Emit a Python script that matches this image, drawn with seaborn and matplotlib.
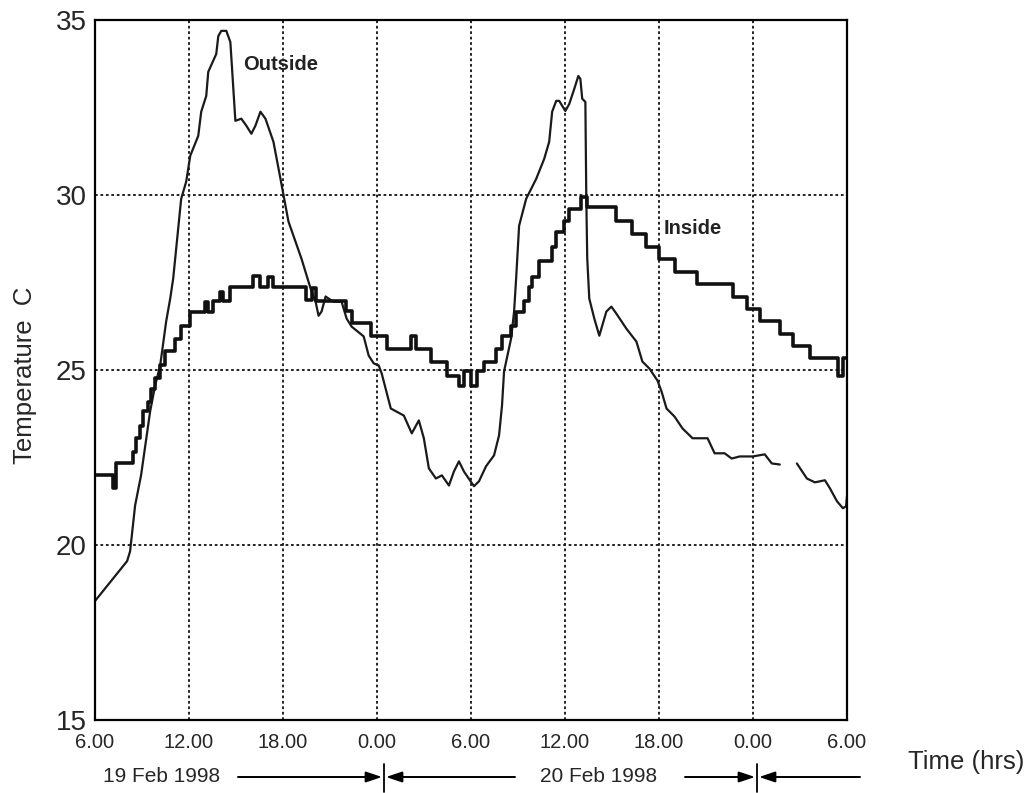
import numpy as np
import pandas as pd
import matplotlib
matplotlib.use("Agg")
import matplotlib.pyplot as plt
import seaborn as sns

# ---------------- data (hours since 06:00, 19 Feb 1998) ----------------
outside_hours = [0, 2.05, 2.24, 2.56, 2.94, 3.52, 3.84, 4.16, 4.54, 4.80, 4.99, 5.50, 5.82,
                 6.08, 6.59, 6.78, 7.10, 7.23, 7.74, 7.87, 8.06, 8.38, 8.64, 8.96, 9.34,
                 9.66, 9.98, 10.24, 10.56, 10.88, 11.39, 11.84, 12.16, 12.35, 13.18, 13.76,
                 14.08, 14.27, 14.46, 14.72, 14.91, 15.23, 15.74, 16.06, 16.38, 17.15,
                 17.47, 17.79, 18.11, 18.30, 18.88, 19.71, 20.22, 20.67, 20.99, 21.31,
                 21.76, 22.14, 22.59, 22.91, 23.23, 23.55, 24.19, 24.51, 24.96, 25.47,
                 25.79, 25.98, 26.11, 26.56, 26.75, 26.88, 27.07, 27.52, 28.16, 28.67,
                 28.99, 29.18, 29.44, 29.63, 30.02, 30.27, 30.59, 30.85, 30.98, 31.10,
                 31.30, 31.36, 31.42, 31.55, 31.87, 32.19, 32.64, 32.96, 33.28, 33.92,
                 34.56, 34.94, 35.39, 35.90, 36.16, 36.48, 36.99, 37.50, 38.14, 39.10,
                 39.55, 40.19, 40.64, 41.15, 41.98, 42.75, 43.20, 43.71,
                 44.80, 45.44, 45.95, 46.59, 46.91, 47.36, 47.74, 47.94, 48.0]
outside_temp = [18.40, 19.54, 19.82, 21.13, 21.99, 23.82, 24.56, 25.13, 26.38, 27.04, 27.61,
                29.89, 30.38, 31.12, 31.69, 32.38, 32.83, 33.52, 34.03, 34.54, 34.69, 34.69,
                34.37, 32.12, 32.18, 31.98, 31.75, 31.98, 32.38, 32.18, 31.52, 30.46, 29.69,
                29.24, 28.18, 27.33, 26.95, 26.55, 26.67, 27.10, 27.04, 26.95, 26.95, 26.47,
                26.24, 25.96, 25.41, 25.19, 25.13, 24.90, 23.90, 23.70, 23.19, 23.56, 23.05,
                22.19, 21.90, 21.99, 21.70, 22.10, 22.39, 22.10, 21.68, 21.82, 22.25, 22.56,
                23.13, 23.99, 24.96, 25.90, 26.67, 27.61, 29.12, 29.89, 30.46, 31.03, 31.52,
                32.38, 32.69, 32.69, 32.40, 32.60, 33.03, 33.40, 33.32, 32.75, 32.66, 29.89,
                28.18, 27.04, 26.47, 25.98, 26.67, 26.81, 26.61, 26.18, 25.81, 25.24, 25.04,
                24.70, 24.39, 23.90, 23.67, 23.33, 23.05, 23.05, 22.62, 22.62, 22.47, 22.53,
                22.53, 22.59, 22.33, 22.30,
                22.33, 21.90, 21.79, 21.85, 21.62, 21.25, 21.05, 21.11, 21.39]
# the outside record has a short gap between these two segments
outside_segment = [1] * 114 + [2] * 9

inside_hours = [0, 1.15, 1.34, 2.43, 2.62, 2.88, 3.07, 3.39, 3.58, 3.84, 4.16, 4.48, 5.12,
                5.50, 6.08, 7.04, 7.23, 7.55, 8.00, 8.19, 8.64, 10.11, 10.56, 11.07, 11.39,
                13.44, 13.82, 14.08, 16.00, 16.38, 17.60, 18.62, 20.16, 20.48, 21.44, 22.46,
                23.23, 23.55, 24.00, 24.38, 24.83, 25.60, 25.98, 26.56, 26.88, 27.39, 27.71,
                27.90, 28.35, 29.18, 29.44, 29.95, 30.27, 31.04, 31.42, 33.28, 34.30, 35.20,
                36.03, 36.99, 38.40, 40.70, 41.60, 42.43, 43.71, 44.54, 45.63, 47.42, 47.74,
                48.0]
inside_temp = [21.99, 21.62, 22.33, 22.67, 23.05, 23.39, 23.82, 24.10, 24.47, 24.76, 25.13,
               25.53, 25.90, 26.27, 26.67, 26.95, 26.67, 26.98, 27.24, 26.98, 27.38, 27.70,
               27.38, 27.67, 27.38, 27.01, 27.33, 26.98, 26.70, 26.33, 25.98, 25.61, 25.98,
               25.61, 25.24, 24.84, 24.53, 24.96, 24.53, 24.96, 25.24, 25.61, 25.96, 26.27,
               26.67, 26.98, 27.38, 27.67, 28.12, 28.52, 28.95, 29.27, 29.61, 29.95, 29.66,
               29.27, 28.89, 28.52, 28.18, 27.81, 27.47, 27.10, 26.75, 26.41, 26.04, 25.70,
               25.33, 24.84, 25.33, 25.33]

x_ticks = [0, 6, 12, 18, 24, 30, 36, 42, 48]
x_tick_labels = ["6.00", "12.00", "18.00", "0.00", "6.00", "12.00", "18.00", "0.00", "6.00"]
y_ticks = [15, 20, 25, 30, 35]
day_labels = ["19 Feb 1998", "20 Feb 1998"]

# ---------------- plotting ----------------
sns.set_style("white")
plt.rcParams["font.family"] = ["Liberation Sans", "DejaVu Sans"]

W, H = 1031, 793
fig = plt.figure(figsize=(W / 100, H / 100), dpi=100)
ax = fig.add_axes([95 / W, 1 - 720 / H, (847 - 95) / W, (720 - 20) / H])

df_out = pd.DataFrame({"hours": outside_hours, "temp": outside_temp, "seg": outside_segment})
df_in = pd.DataFrame({"hours": inside_hours, "temp": inside_temp})

sns.lineplot(data=df_out, x="hours", y="temp", units="seg", estimator=None, sort=False,
             color="#1a1a1a", linewidth=1.6, ax=ax, legend=False)
sns.lineplot(data=df_in, x="hours", y="temp", estimator=None, sort=False,
             color="#111111", linewidth=2.6, drawstyle="steps-post", ax=ax, legend=False)

ax.set_xlim(0, 48)
ax.set_ylim(15, 35)
ax.set_xticks(x_ticks)
ax.set_xticklabels(x_tick_labels, fontsize=14.5)
ax.set_yticks(y_ticks)
ax.set_yticklabels([str(v) for v in y_ticks], fontsize=20)
ax.tick_params(axis="x", length=0, pad=9)
ax.tick_params(axis="y", length=4, width=1.2, direction="out", pad=2, color="black")
ax.set_xlabel("")
ax.set_ylabel("")

for t in x_ticks[1:-1]:
    ax.axvline(t, color="#222222", linestyle=(0, (1.4, 1.4)), linewidth=1.4, zorder=0)
for t in y_ticks[1:-1]:
    ax.axhline(t, color="#222222", linestyle=(0, (1.4, 1.4)), linewidth=1.4, zorder=0)

for s in ax.spines.values():
    s.set_color("black")
    s.set_linewidth(1.6)

ax.text((243 - 95) / 15.66, 33.72, "Outside", fontsize=14.5, fontweight="bold",
        ha="left", va="center", color="#222222")
ax.text((663 - 95) / 15.66, 29.05, "Inside", fontsize=14.5, fontweight="bold",
        ha="left", va="center", color="#222222")

fig.text(908 / W, 1 - 762 / H, "Time (hrs)", fontsize=18.5, ha="left", va="center")
fig.text(25 / W, 1 - 375 / H, "Temperature  C", fontsize=18.5,
         rotation=90, ha="center", va="center")

# date row
yd = 1 - 777 / H
fig.text(103 / W, yd, day_labels[0], fontsize=15, ha="left", va="center")
fig.text(540 / W, yd, day_labels[1], fontsize=15, ha="left", va="center")
arrow_kw = dict(arrowstyle="-|>,head_length=0.6,head_width=0.2", color="black", lw=1.4,
                shrinkA=0, shrinkB=0, mutation_scale=16)
for x0, x1 in [(238, 382), (515, 386), (685, 755), (860, 759)]:
    fig.add_artist(matplotlib.patches.FancyArrowPatch((x0 / W, yd), (x1 / W, yd),
                                                       transform=fig.transFigure, **arrow_kw))
for xb in [384, 757]:
    fig.add_artist(matplotlib.lines.Line2D([xb / W, xb / W], [1 - 764 / H, 1 - 792 / H],
                                           transform=fig.transFigure, color="black", lw=1.3))

fig.savefig("out.png", dpi=100)
